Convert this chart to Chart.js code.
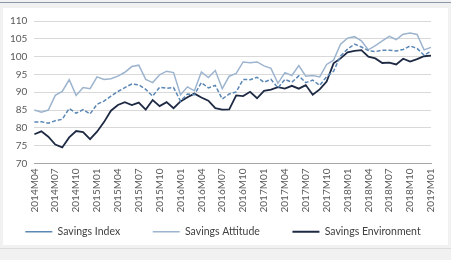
<!DOCTYPE html>
<html lang="en">
<head>
  <meta charset="UTF-8">
  <title>Savings Index</title>
  <script src="https://cdn.jsdelivr.net/npm/chart.js"></script>
  <style>
    html, body { margin: 0; padding: 0; }
    body { width: 451px; height: 260px; background: #f1f1f1; position: relative; overflow: hidden; }
    .topline { position: absolute; left: 0; top: 2px; width: 451px; height: 1px; background: #8c96a8; }
    .box { position: absolute; left: 3px; top: 8px; width: 445px; height: 237px; background: #fff; }
    .bottomline { position: absolute; left: 0; top: 248px; width: 451px; height: 1px; background: #dcdcdc; }
    #chart { position: absolute; left: 3px; top: 8px; width: 445px; height: 245px; }
  </style>
</head>
<body>
  <div class="topline"></div>
  <div class="box"></div>
  <div class="bottomline"></div>
  <canvas id="chart" width="445" height="245"></canvas>

  <script>
    // months 2014M04 .. 2019M01
    const months = [];
    for (let y = 2014; y <= 2019; y++) {
      for (let m = 1; m <= 12; m++) {
        if (y === 2014 && m < 4) continue;
        if (y === 2019 && m > 1) continue;
        months.push(y + "M" + String(m).padStart(2, "0"));
      }
    }

    const savingsIndex = [
      81.6, 81.7, 81.3, 82.0, 82.4, 85.4, 84.1, 85.1, 83.9, 86.6,
      87.5, 88.9, 90.2, 91.3, 92.3, 92.1, 90.8, 88.9, 91.4, 91.1,
      91.3, 87.5, 89.5, 89.3, 92.7, 91.2, 91.9, 88.1, 89.5, 90.1,
      93.6, 93.5, 94.2, 92.8, 93.6, 91.2, 93.6, 92.8, 94.6, 92.7,
      93.4, 91.9, 94.4, 95.9, 100.2, 102.1, 103.5, 102.7, 101.7, 101.4,
      101.8, 101.8, 101.6, 102.0, 103.0, 102.3, 100.4, 101.5
    ];
    const savingsAttitude = [
      85.0, 84.4, 85.0, 89.1, 90.2, 93.5, 89.1, 91.3, 91.0, 94.3,
      93.6, 93.8, 94.5, 95.6, 97.2, 97.6, 93.6, 92.7, 94.9, 95.9,
      95.5, 89.3, 91.5, 90.4, 95.7, 94.1, 96.1, 91.0, 94.5, 95.3,
      98.5, 98.3, 98.5, 97.4, 96.7, 92.5, 95.5, 94.7, 97.5, 94.5,
      94.7, 94.3, 97.8, 99.0, 103.5, 105.2, 105.6, 104.4, 101.9, 103.1,
      104.4, 105.7, 104.8, 106.3, 106.6, 106.2, 101.9, 102.6
    ];
    const savingsEnvironment = [
      78.2, 79.0, 77.5, 75.3, 74.5, 77.3, 79.1, 78.8, 76.8, 78.9,
      81.6, 84.8, 86.4, 87.2, 86.4, 87.1, 85.1, 87.8, 86.1, 87.2,
      85.5, 87.4, 88.6, 89.6, 88.5, 87.6, 85.5, 85.1, 85.2, 89.1,
      88.9, 90.1, 88.3, 90.4, 90.7, 91.4, 91.0, 91.8, 91.0, 92.0,
      89.3, 90.8, 93.0, 98.1, 99.5, 101.2, 101.6, 101.8, 100.0, 99.5,
      98.2, 98.3, 97.8, 99.4, 98.6, 99.3, 100.1, 100.3
    ];

    Chart.defaults.font.family = "Lato, 'Open Sans', sans-serif";
    Chart.defaults.font.size = 10;
    Chart.defaults.color = "#595959";

    const ctx = document.getElementById("chart").getContext("2d");
    new Chart(ctx, {
      type: "line",
      data: {
        labels: months,
        datasets: [
          {
            label: "Savings Index",
            data: savingsIndex,
            borderColor: "#5b87b5",
            borderWidth: 1.5,
            borderDash: [4, 2],
            pointRadius: 0,
            tension: 0
          },
          {
            label: "Savings Attitude",
            data: savingsAttitude,
            borderColor: "#9db4cf",
            borderWidth: 1.5,
            pointRadius: 0,
            tension: 0
          },
          {
            label: "Savings Environment",
            data: savingsEnvironment,
            borderColor: "#1e2a44",
            borderWidth: 1.8,
            pointRadius: 0,
            tension: 0
          }
        ]
      },
      options: {
        responsive: false,
        animation: false,
        layout: { padding: { top: 9, right: 5, left: 0, bottom: 6 } },
        plugins: {
          tooltip: { enabled: false },
          legend: {
            position: "bottom",
            labels: {
              usePointStyle: true,
              pointStyle: "line",
              pointStyleWidth: 27,
              boxHeight: 10,
              padding: 9,
              color: "#404040",
              font: { size: 10.5 },
              // extra room between the entries, as in the original
              generateLabels: function (chart) {
                const items = Chart.defaults.plugins.legend.labels.generateLabels(chart);
                items.forEach(function (it, i) {
                  if (i < items.length - 1) it.text += "\u2003\u2003\u2003";
                });
                return items;
              }
            }
          }
        },
        scales: {
          x: {
            grid: { display: false, drawTicks: false },
            border: { display: true, color: "#a6a6a6" },
            ticks: {
              autoSkip: false,
              minRotation: 90,
              maxRotation: 90,
              padding: 5,
              callback: function (v, i) { return i % 3 === 0 ? months[i] : ""; }
            }
          },
          y: {
            min: 70,
            max: 110,
            grid: { color: "#d9d9d9", drawTicks: false },
            border: { display: false },
            ticks: { stepSize: 5, padding: 7, autoSkip: false }
          }
        }
      }
    });
  </script>
</body>
</html>
